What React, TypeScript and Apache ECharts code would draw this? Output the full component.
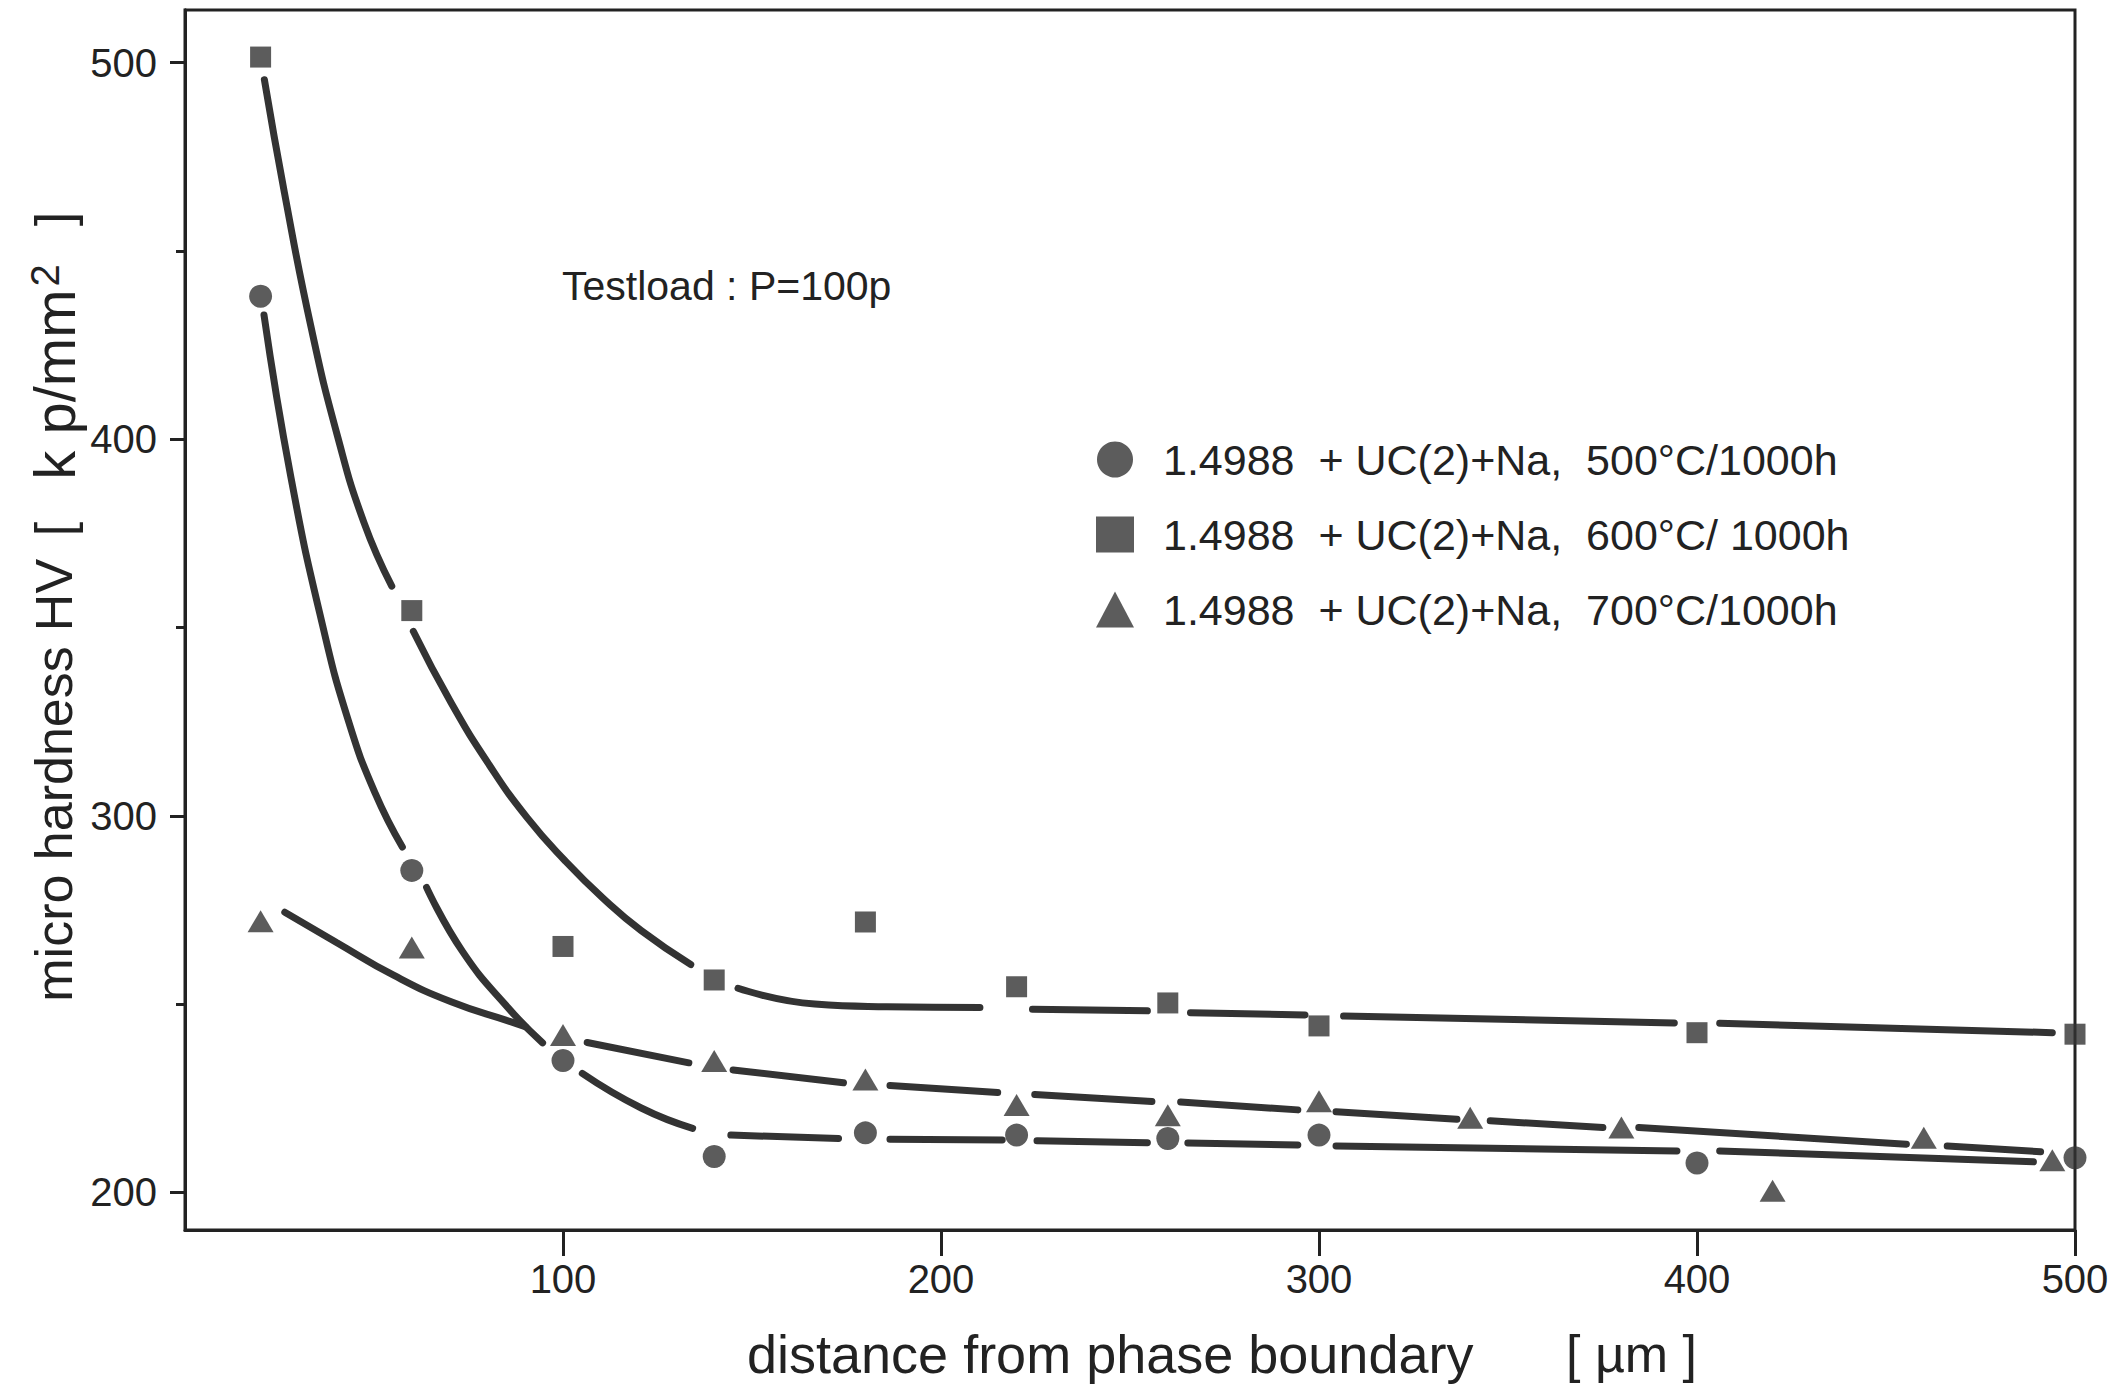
import React, { useEffect, useRef } from "react";
import * as echarts from "echarts";

// ---- data ----
const X_TICKS = [100, 200, 300, 400, 500];
const Y_LABELS = [200, 300, 400, 500];
const Y_MINOR = [250, 350, 450];

const LEGEND_LABELS = [
  "1.4988\u00a0\u00a0+ UC(2)+Na,\u00a0\u00a0500°C/1000h",
  "1.4988\u00a0\u00a0+ UC(2)+Na,\u00a0\u00a0600°C/ 1000h",
  "1.4988\u00a0\u00a0+ UC(2)+Na,\u00a0\u00a0700°C/1000h",
];

// measured points [distance µm, HV]
const pts500 = [
  [20, 438], [60, 285.5], [100, 235], [140, 209.5], [180, 215.8],
  [220, 215.2], [260, 214.3], [300, 215.2], [400, 207.8], [500, 209.2],
];
const pts600 = [
  [20, 501.5], [60, 354.5], [100, 265.3], [140, 256.4], [180, 271.8],
  [220, 254.6], [260, 250.3], [300, 244.2], [400, 242.4], [500, 242],
];
const pts700 = [
  [20, 272], [60, 265], [100, 241.8], [140, 234.9], [180, 230], [220, 223.2],
  [260, 220.5], [300, 224.2], [340, 219.8], [380, 217.2], [420, 200.4],
  [460, 214.5], [494, 208.5],
];

// hand-drawn fit curves, read as broken segments
const fit500 = [
  [[20.9, 433], [28, 390], [36.3, 351], [43.3, 325], [50.3, 306], [57.5, 291.7]],
  [[63.9, 281], [73.4, 264], [85.5, 249], [94.6, 239.7]],
  [[105.1, 231.6], [120.7, 222.4], [134.3, 217]],
  [[144.4, 215.2], [172.9, 214.3]],
  [[186.5, 214.1], [216.2, 213.9]],
  [[225.4, 213.7], [254.6, 213.2]],
  [[265.3, 213.1], [294.4, 212.6]],
  [[304.5, 212.3], [394.7, 211]],
  [[406, 211], [489, 208.1]],
];
const fit600 = [
  [[21, 495.5], [26.3, 465.5], [33.3, 430], [40.3, 401], [47.3, 378], [54.7, 361]],
  [[60.4, 349], [70.4, 330], [80.5, 313.5], [90.5, 299.5], [100.6, 288], [110.7, 278], [120.7, 269.5], [133.8, 260.5]],
  [[146.3, 254.2], [166.6, 250], [185.6, 249.3], [210.3, 249.1]],
  [[224.2, 248.6], [254.6, 248.2]],
  [[266, 247.7], [296.3, 247.1]],
  [[306.5, 246.8], [394, 245]],
  [[406, 244.9], [494, 242.4]],
];
const fit700 = [
  [[26.4, 274.4], [40.2, 266.3], [55.3, 257.6], [70.4, 250.6], [86.5, 245.2], [90, 244]],
  [[106.4, 239.8], [133.3, 234.4]],
  [[145, 232.5], [174.2, 229.1]],
  [[186.5, 228.4], [215, 226.5]],
  [[224.8, 226], [255.8, 224.1]],
  [[263.4, 224], [294.4, 221.9]],
  [[304.5, 221.4], [336.5, 219.4]],
  [[345.3, 219], [375.1, 217.2]],
  [[384.6, 217.2], [455.4, 212.8]],
  [[466.2, 212.3], [490.9, 210.8]],
];

const INK = "#222222";
const MARK = "#333333";
const FONT = "Liberation Sans";

export default function App() {
  const ref = useRef<HTMLDivElement>(null);

  useEffect(() => {
    if (!ref.current) return;
    const chart = echarts.init(ref.current, undefined, { renderer: "svg" });

    const lineSeries: any[] = [];
    const addFit = (segs: number[][][], tag: string) => {
      segs.forEach((seg, i) => {
        lineSeries.push({
          name: `${tag}-${i}`,
          type: "line",
          data: seg,
          smooth: 0.5,
          symbol: "none",
          silent: true,
          z: 2,
          lineStyle: { color: MARK, width: 7, cap: "round" },
        });
      });
    };
    addFit(fit500, "fit500");
    addFit(fit600, "fit600");
    addFit(fit700, "fit700");

    const scatter = (name: string, data: number[][], symbol: string, size: any) => ({
      name,
      type: "scatter",
      data,
      symbol,
      symbolSize: size,
      z: 3,
      itemStyle: { color: MARK },
    });

    const txt = (x: number, y: number, text: string, fontSize: number, extra: any = {}, rich?: any) => ({
      type: "text",
      x,
      y,
      rotation: extra.rotation || 0,
      style: {
        text,
        fontSize,
        fontFamily: FONT,
        fill: INK,
        textVerticalAlign: "middle",
        textAlign: extra.align || "left",
        ...(rich ? { rich } : {}),
      },
    });

    const rot = { rotation: Math.PI / 2, align: "center" };

    chart.setOption({
      animation: false,
      backgroundColor: "#ffffff",
      grid: {
        left: 185,
        right: 42,
        top: 10,
        bottom: 157,
        show: true,
        borderColor: INK,
        borderWidth: 3,
        backgroundColor: "transparent",
      },
      xAxis: {
        type: "value",
        min: 0,
        max: 500,
        axisLine: { show: true, lineStyle: { color: INK, width: 3 } },
        axisTick: { show: true, customValues: X_TICKS, length: 26, lineStyle: { color: INK, width: 3 } },
        axisLabel: { customValues: X_TICKS, fontSize: 40, fontFamily: FONT, color: INK, margin: 29 },
        splitLine: { show: false },
      },
      yAxis: [
        {
          type: "value",
          min: 190,
          max: 514,
          axisLine: { show: true, lineStyle: { color: INK, width: 3 } },
          axisTick: { show: true, customValues: Y_LABELS, length: 15, lineStyle: { color: INK, width: 3 } },
          axisLabel: { customValues: Y_LABELS, fontSize: 40, fontFamily: FONT, color: INK, margin: 28 },
          splitLine: { show: false },
        },
        {
          type: "value",
          min: 190,
          max: 514,
          position: "left",
          offset: 0,
          axisLine: { show: true, lineStyle: { color: INK, width: 3 } },
          axisTick: { show: true, customValues: Y_MINOR, length: 9, lineStyle: { color: INK, width: 3 } },
          axisLabel: { show: false },
          splitLine: { show: false },
        },
      ],
      legend: {
        data: LEGEND_LABELS,
        orient: "vertical",
        left: 1091,
        top: 433,
        itemWidth: 38,
        itemHeight: 36,
        itemGap: 32,
        selectedMode: false,
        textStyle: { fontSize: 43, fontFamily: FONT, color: INK, padding: [0, 0, 0, 24], lineHeight: 36 },
      },
      graphic: [
        txt(562, 286, "Testload : P=100p", 41),
        txt(747, 1354, "distance from phase boundary", 54),
        txt(1566, 1354, "[ µm ]", 52),
        txt(54, 824, "micro hardness", 52, rot),
        txt(54, 595, "HV", 52, rot),
        txt(54, 529, "[", 52, rot),
        txt(54, 372, "k p/mm{s|2}", 58, rot, { s: { fontSize: 40, verticalAlign: "top", padding: [0, 0, 12, 3] } }),
        txt(54, 219, "]", 52, rot),
      ],
      series: [
        ...lineSeries,
        scatter(LEGEND_LABELS[0], pts500, "circle", 23),
        scatter(LEGEND_LABELS[1], pts600, "rect", 21),
        scatter(LEGEND_LABELS[2], pts700, "triangle", [26, 22]),
      ],
    });

    return () => chart.dispose();
  }, []);

  return (
    <div
      ref={ref}
      style={{ position: "absolute", left: 0, top: 0, width: 2117, height: 1387, background: "#fff" }}
    />
  );
}
